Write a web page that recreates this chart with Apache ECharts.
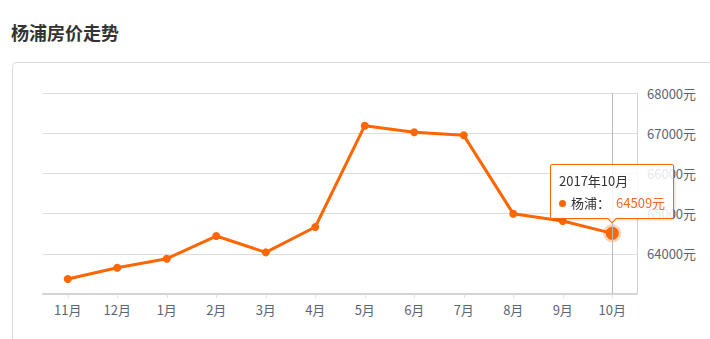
<!DOCTYPE html>
<html>
<head>
<meta charset="utf-8">
<script src="https://cdn.jsdelivr.net/npm/echarts@6/dist/echarts.min.js"></script>
<style>
html,body{margin:0;padding:0;background:#fff;}
#chart{width:710px;height:339px;}
</style>
</head>
<body>
<div id="chart"></div>
<script>
const titleText = '杨浦房价走势';
const seriesName = '杨浦';
const months = ['11月','12月','1月','2月','3月','4月','5月','6月','7月','8月','9月','10月'];
const fullDates = ['2016年11月','2016年12月','2017年1月','2017年2月','2017年3月','2017年4月','2017年5月','2017年6月','2017年7月','2017年8月','2017年9月','2017年10月'];
const prices = [63373, 63654, 63878, 64442, 64036, 64666, 67187, 67022, 66947, 64997, 64815, 64509];
const unit = '元';
const highlightIndex = 11;

const chart = echarts.init(document.getElementById('chart'), null, {renderer: 'svg'});
const ORANGE = '#ff6600';

const dataItems = prices.map((v, i) => i === highlightIndex ? {
  value: v,
  symbolSize: 13,
  itemStyle: {color: ORANGE, borderColor: 'rgba(255,102,0,0.28)', borderWidth: 5}
} : v);

chart.setOption({
  animation: false,
  title: {
    text: titleText, left: 6, top: 18,
    textStyle: {fontSize: 18, fontWeight: 'bold', color: '#333', fontFamily: 'Noto Sans CJK SC'}
  },
  graphic: [{
    type: 'rect', silent: true, z: -10,
    shape: {x: 12.5, y: 62.5, width: 720, height: 300, r: 4},
    style: {fill: '#fff', stroke: '#dcdcdc', lineWidth: 1}
  }],
  grid: {left: 43, right: 73, top: 93, bottom: 45},
  tooltip: {
    trigger: 'item',
    position: 'top',
    alwaysShowContent: true,
    showDelay: 0,
    transitionDuration: 0,
    backgroundColor: 'rgba(255,255,255,0.85)',
    borderColor: ORANGE,
    borderWidth: 1,
    borderRadius: 2,
    padding: [5, 8, 4, 8],
    extraCssText: 'box-shadow:1px 1px 3px rgba(0,0,0,0.15);margin-top:5px;',
    textStyle: {color: '#333', fontSize: 13, fontFamily: 'Noto Sans CJK SC'},
    formatter: function (p) {
      return '<div style="line-height:22px;">' + fullDates[p.dataIndex] + '</div>' +
        '<div style="line-height:22px;"><span style="display:inline-block;width:7px;height:7px;border-radius:50%;background:' + ORANGE + ';margin-right:5px;vertical-align:1px;"></span>' +
        seriesName + '：<span style="color:#ff6a1f;margin-left:6px;">' + p.value + unit + '</span></div>';
    }
  },
  xAxis: {
    type: 'category',
    data: months,
    boundaryGap: true,
    axisLine: {show: true, lineStyle: {color: '#d4d4d4', width: 2}},
    axisTick: {show: true, alignWithLabel: true, length: 4, lineStyle: {color: '#e0e0e0'}},
    axisLabel: {color: '#5a6575', fontSize: 13, margin: 9, fontFamily: 'Noto Sans CJK SC'},
    splitLine: {show: false}
  },
  yAxis: {
    type: 'value',
    position: 'right',
    min: 63000, max: 68000, interval: 1000,
    axisLine: {show: true, lineStyle: {color: '#d4d4d4', width: 1}},
    axisTick: {show: false},
    axisLabel: {
      color: '#5a6575', fontSize: 13, margin: 10, showMinLabel: false,
      fontFamily: 'Noto Sans CJK SC',
      formatter: function (v) { return v + unit; }
    },
    splitLine: {show: true, lineStyle: {color: '#dddddd', width: 1}}
  },
  series: [{
    name: seriesName,
    type: 'line',
    data: dataItems,
    symbol: 'circle',
    symbolSize: 8,
    lineStyle: {color: ORANGE, width: 3},
    itemStyle: {color: ORANGE},
    emphasis: {disabled: true},
    markLine: {
      silent: true,
      symbol: 'none',
      label: {show: false},
      lineStyle: {color: '#bbbbbb', width: 1, type: 'solid'},
      data: [{xAxis: months[highlightIndex]}]
    }
  }]
});

chart.dispatchAction({type: 'showTip', seriesIndex: 0, dataIndex: highlightIndex});
</script>
</body>
</html>
